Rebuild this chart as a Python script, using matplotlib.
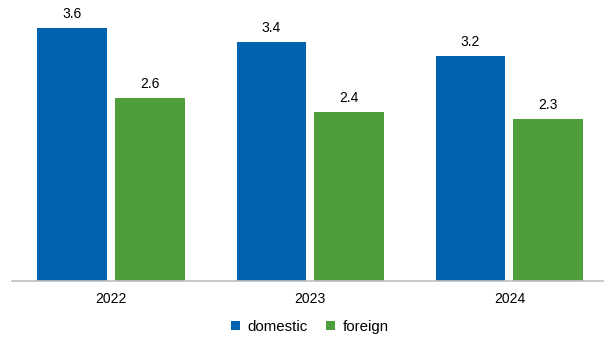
import numpy as np
import matplotlib
matplotlib.use('Agg')
import matplotlib.pyplot as plt

plt.rcParams['font.family'] = ['Liberation Sans', 'DejaVu Sans']

# Dados
anos = ['2022', '2023', '2024']
domestic = [3.6, 3.4, 3.2]
foreign = [2.6, 2.4, 2.3]

cor_domestic = '#0063AF'
cor_foreign = '#4E9F3C'

fig = plt.figure(figsize=(6.05, 3.39), dpi=100)
ax = fig.add_axes([11.5 / 605, 58 / 339, 591.5 / 605, 281 / 339])

x = np.arange(len(anos))
largura = 0.35
b1 = ax.bar(x - 0.195, domestic, largura, color=cor_domestic, label='domestic')
b2 = ax.bar(x + 0.195, foreign, largura, color=cor_foreign, label='foreign')

for barras in (b1, b2):
    for b in barras:
        ax.text(b.get_x() + b.get_width() / 2, b.get_height() + 0.1,
                f'{b.get_height():.1f}', ha='center', va='bottom', fontsize=10)

ax.set_xlim(-0.5, 2.47)
ax.set_ylim(0, 4)
ax.set_xticks(x)
ax.set_xticklabels(anos, fontsize=10)
ax.tick_params(axis='x', length=0, pad=8)
ax.set_yticks([])
for lado in ['top', 'right', 'left']:
    ax.spines[lado].set_visible(False)
ax.spines['bottom'].set_color('#BFBFBF')
ax.spines['bottom'].set_linewidth(1.2)

fig.legend(loc='center', bbox_to_anchor=(310 / 605, 1 - 327 / 339), ncol=2,
           frameon=False, fontsize=10.8, handlelength=0.6, handleheight=0.6,
           handletextpad=0.5, columnspacing=1.2)

fig.savefig('out.png', dpi=100)
